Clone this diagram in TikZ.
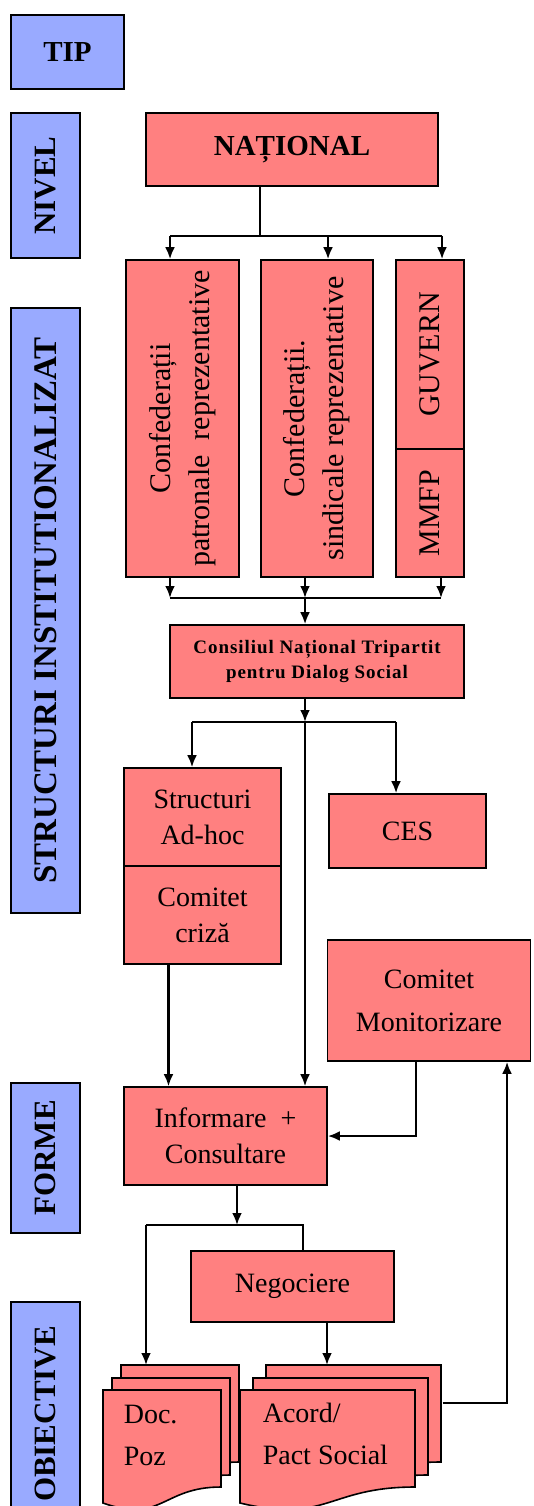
\documentclass[tikz,border=0pt]{standalone}
\usepackage{fontspec}
\setmainfont{Liberation Serif}
\newfontfamily\councilfont[LetterSpace=5]{Liberation Serif}
\usepackage{tikz}
\usetikzlibrary{arrows.meta}
\definecolor{boxred}{RGB}{255,128,128}
\definecolor{tipblue}{RGB}{153,170,255}

% page of a document stack: name, left, top, width
\newcommand{\docpage}[4]{%
  \node[pageanchor, minimum width=#4pt] (#1) at (#2,#3) {};
  \filldraw[fill=boxred, line width=1.6pt] (#2,#3) -- (#2+#4,#3) -- (#2+#4,#3+97)
    .. controls (#2+#4/2,#3+97) and (#2+#4/2,#3+134) .. (#2,#3+113) -- cycle;
}

\begin{document}
\begin{tikzpicture}[
  x=1pt, y=-1pt,
  every node/.style={draw, line width=1.6pt, inner sep=0pt, align=center},
  level/.style={fill=tipblue, font=\fontsize{31}{36}\selectfont\bfseries},
  box/.style={fill=boxred, font=\fontsize{28}{36}\selectfont},
  vbox/.style={box, rotate=90, font=\fontsize{30}{39}\selectfont},
  pageanchor/.style={draw=none, minimum height=97pt, anchor=north west},
  plain/.style={draw=none, fill=none, align=left, anchor=north west, font=\fontsize{28}{42}\selectfont},
  link/.style={line width=2.6pt},
  thinlink/.style={line width=1.4pt},
  arrow/.style={link, -{Latex[length=12pt,width=10pt]}}
]

% frame
\useasboundingbox (0,0) rectangle (533,1506);
\clip (0,0) rectangle (533,1506);

% Left column
\node[level, minimum width=113pt, minimum height=74pt, font=\fontsize{29}{34}\selectfont\bfseries] (tip) at (67.5,52) {TIP};
\node[level, rotate=90, minimum width=145pt, minimum height=69pt] (nivel) at (45.5,185.5) {NIVEL};
\node[level, rotate=90, minimum width=605pt, minimum height=69pt, font=\fontsize{33}{38}\selectfont\bfseries] (structinst) at (45.5,610.5) {STRUCTURI INSTITUTIONALIZAT};
\node[level, rotate=90, minimum width=150pt, minimum height=69pt] (forme) at (45.5,1158) {FORME};
\node[level, rotate=90, minimum width=224pt, minimum height=69pt] (obiective) at (45.5,1414) {OBIECTIVE};

% Structures
\node[box, minimum width=292pt, minimum height=73pt, font=\fontsize{29}{34}\selectfont\bfseries] (national) at (292,149.5) {NAȚIONAL};
\node[vbox, minimum width=317pt, minimum height=113pt] (confpat) at (182.5,418.5) {Confederații\\patronale\ \ reprezentative};
\node[vbox, minimum width=317pt, minimum height=112pt] (confsind) at (317,418.5) {Confederații.\\sindicale reprezentative};
\node[vbox, minimum width=189pt, minimum height=68pt] (guvern) at (430,354.5) {GUVERN};
\node[vbox, minimum width=128pt, minimum height=68pt] (mmfp) at (430,513) {MMFP};
\node[box, minimum width=294pt, minimum height=73pt, font=\councilfont\fontsize{19}{25}\selectfont\bfseries] (cntds) at (317,661.5) {Consiliul Național Tripartit\\pentru Dialog Social};
\node[box, minimum width=157pt, minimum height=98pt] (structuri) at (202.5,817) {Structuri\\Ad-hoc};
\node[box, minimum width=157pt, minimum height=98pt] (criza) at (202.5,915) {Comitet\\criză};
\node[box, minimum width=157pt, minimum height=74pt] (ces) at (407.5,831) {CES};
\node[box, minimum width=203pt, minimum height=121pt, font=\fontsize{28}{43}\selectfont] (monit) at (429,1000.5) {Comitet\\Monitorizare};
\node[box, minimum width=203pt, minimum height=98pt] (informare) at (225.5,1136) {Informare\ \ +\\Consultare};
\node[box, minimum width=203pt, minimum height=71pt] (negociere) at (292.5,1286.5) {Negociere};

% Document stacks
\docpage{docback}{121}{1365}{118}
\docpage{docmid}{112}{1378}{118}
\docpage{docfront}{103}{1390}{118}
\node[plain] (doctext) at (123,1404) {Doc.\\Poz};
\docpage{acordback}{266}{1365}{175}
\docpage{acordmid}{253}{1378}{175}
\docpage{acordfront}{240}{1390}{175}
\node[plain] (acordtext) at (262,1402) {Acord/\\Pact Social};

% National to partners
\coordinate (natsplit) at (260,236);
\coordinate (natL) at (170,236);
\coordinate (natM) at (328,236);
\coordinate (natR) at (442,236);
\draw[thinlink] (national.south -| natsplit) -- (natsplit);
\draw[link] (natL) -- (natR);
\draw[arrow] (natL) -- (natL |- confpat.east);
\draw[arrow] (natM) -- (natM |- confsind.east);
\draw[arrow] (natR) -- (natR |- guvern.east);

% Partners to council
\coordinate (cbL) at (170,598);
\coordinate (cbM) at (305,598);
\coordinate (cbR) at (441,598);
\draw[arrow] (confpat.west -| cbL) -- (cbL);
\draw[arrow] (confsind.west -| cbM) -- (cbM);
\draw[arrow] (mmfp.west -| cbR) -- (cbR);
\draw[link] (cbL) -- (cbR);
\draw[arrow] (cbM) -- (cbM |- cntds.north);

% Council to structures and forms
\coordinate (sj) at (305,722);
\coordinate (sjL) at (192,722);
\coordinate (sjR) at (396,722);
\draw[arrow] (cntds.south -| sj) -- (sj);
\draw[link] (sjL) -- (sjR);
\draw[arrow] (sjL) -- (sjL |- structuri.north);
\draw[arrow] (sjR) -- (sjR |- ces.north);
\draw[arrow] (sj) -- (sj |- informare.north);
\coordinate (crizaout) at ([xshift=-34pt]criza.south);
\draw[arrow] (crizaout) -- (crizaout |- informare.north);
\draw[arrow] ([xshift=-13pt]monit.south) |- (informare.east);

% Forms to objectives
\coordinate (fj) at (237,1225);
\coordinate (fjL) at (146,1225);
\coordinate (fjR) at (303,1225);
\draw[arrow] (informare.south -| fj) -- (fj);
\draw[link] (fjL) -- (fjR) -- (fjR |- negociere.north);
\draw[arrow] (fjL) -- (fjL |- docback.north);
\coordinate (negout) at ([xshift=34.5pt]negociere.south);
\draw[arrow] (negout) -- (negout |- acordback.north);
\draw[arrow] ([yshift=11.5pt]acordback.east) -| ([xshift=78pt]monit.south);

\end{tikzpicture}
\end{document}
